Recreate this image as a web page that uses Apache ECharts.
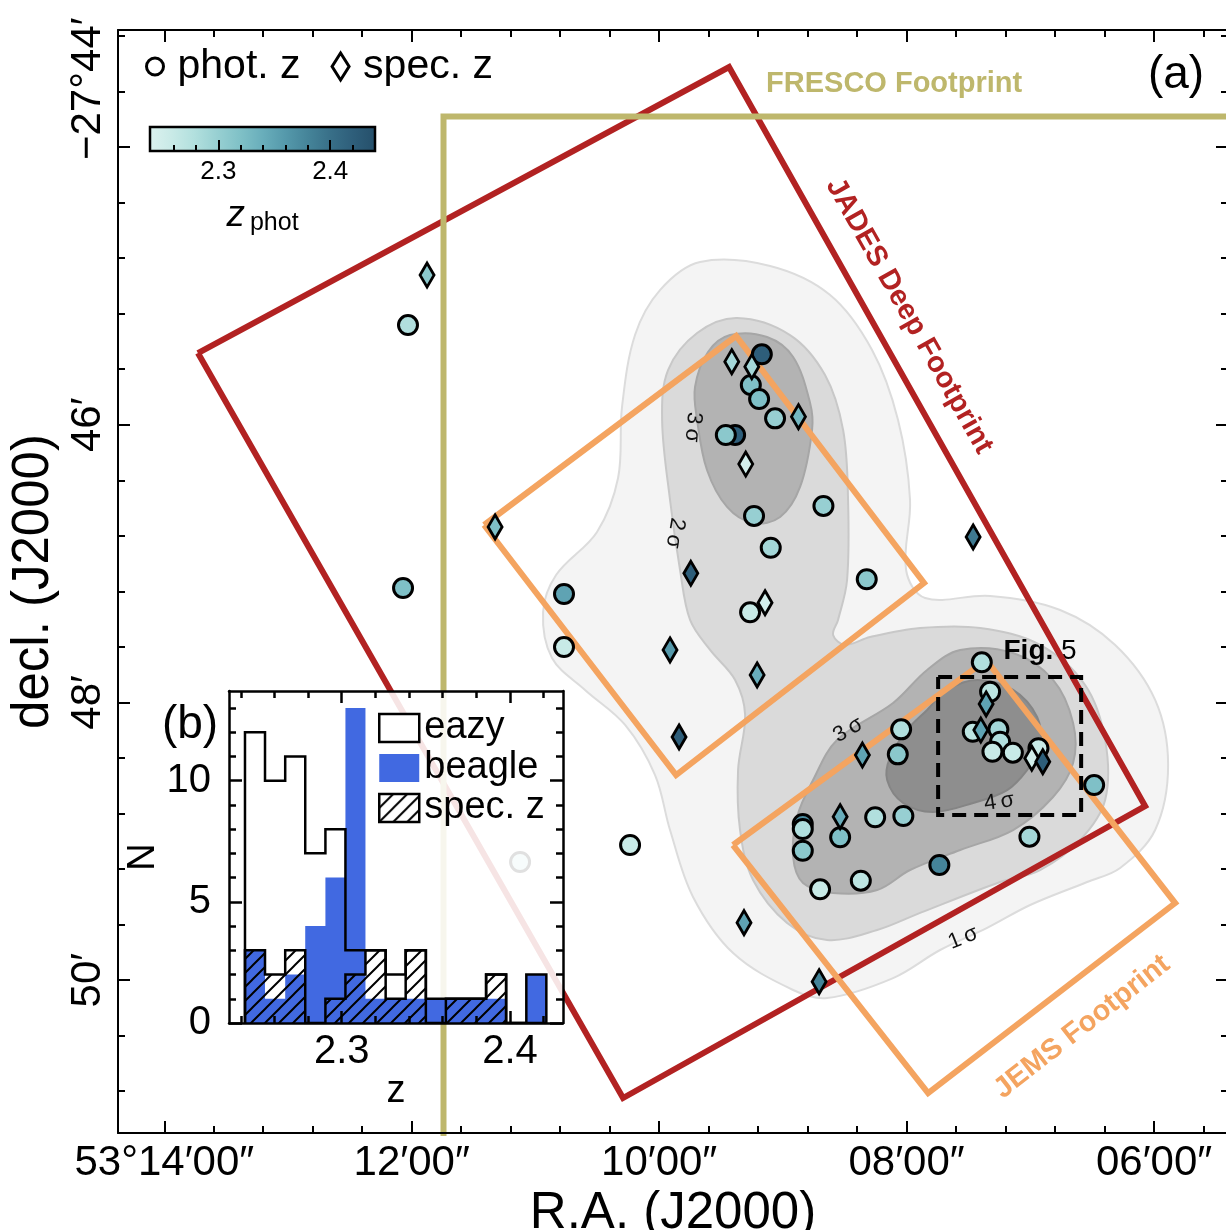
<!DOCTYPE html>
<html><head><meta charset="utf-8">
<script src="https://cdn.jsdelivr.net/npm/echarts@6/dist/echarts.min.js"></script>
<style>html,body{margin:0;padding:0;background:#fff;overflow:hidden}#c{width:1226px;height:1230px}</style>
</head><body><div id="c"></div>
<script>
// ---------------- DATA ----------------
// R.A. in arcmin past 53°00' ; decl. in arcmin below -27°00'
const raTicks = [6, 8, 10, 12, 14];
const raMinorTicks = [5.6, 6.4, 6.8, 7.2, 7.6, 8.4, 8.8, 9.2, 9.6, 10.4, 10.8, 11.2, 11.6, 12.4, 12.8, 13.2, 13.6];
const decTicks = [44, 46, 48, 50];
const decMinorTicks = [43.2, 43.6, 44.4, 44.8, 45.2, 45.6, 46.4, 46.8, 47.2, 47.6, 48.4, 48.8, 49.2, 49.6, 50.4, 50.8];

// [R.A., decl., z_phot]
const photZ = [
  [12.030, 45.282, 2.28], [12.070, 47.176, 2.32], [10.769, 47.219, 2.35], [10.769, 47.601, 2.26],
  [10.235, 49.027, 2.26], [11.124, 49.149, 2.27],
  [9.170, 45.493, 2.42], [9.259, 45.714, 2.32], [9.192, 45.815, 2.32], [9.063, 45.954, 2.30],
  [9.386, 46.074, 2.42], [9.461, 46.074, 2.31], [9.233, 46.657, 2.30], [8.672, 46.585, 2.30],
  [9.098, 46.886, 2.29], [8.322, 47.113, 2.31], [9.265, 47.351, 2.26],
  [7.392, 47.711, 2.28], [7.325, 47.923, 2.27], [7.465, 48.211, 2.27], [7.258, 48.194, 2.29],
  [7.244, 48.283, 2.28], [7.306, 48.355, 2.26], [7.141, 48.362, 2.26], [6.934, 48.330, 2.26],
  [6.484, 48.595, 2.32], [8.044, 48.194, 2.28], [8.071, 48.374, 2.31], [8.839, 48.875, 2.37],
  [8.839, 48.912, 2.28], [8.839, 49.068, 2.31], [8.537, 48.971, 2.32], [8.254, 48.827, 2.28],
  [8.026, 48.818, 2.30], [7.735, 49.171, 2.38], [7.007, 48.967, 2.29], [8.699, 49.346, 2.26],
  [8.370, 49.284, 2.27]
];
const specZ = [
  [11.876, 44.922, 2.31], [11.326, 46.736, 2.32], [9.413, 45.546, 2.29], [9.251, 45.582, 2.29],
  [8.874, 45.942, 2.33], [9.300, 46.283, 2.25], [9.744, 47.070, 2.42], [9.144, 47.282, 2.25],
  [9.912, 47.622, 2.36], [9.208, 47.802, 2.34], [9.839, 48.249, 2.42], [7.462, 46.808, 2.39],
  [9.314, 49.586, 2.35], [8.707, 50.011, 2.38], [7.357, 48.011, 2.35], [7.400, 48.199, 2.35],
  [6.988, 48.402, 2.25], [6.899, 48.427, 2.42], [8.357, 48.379, 2.35], [8.537, 48.823, 2.34]
];

const frescoFootprint = [[11.743, 52.0], [11.743, 43.780], [4.8, 43.780]];
const jadesFootprint = [[13.728, 45.484], [9.435, 43.424], [6.072, 48.746], [10.292, 50.849], [13.728, 45.484]];
const jemsFootprintA = [[11.415, 46.722], [9.378, 45.361], [7.859, 47.140], [9.863, 48.523], [11.415, 46.722]];
const jemsFootprintB = [[9.403, 49.027], [7.357, 47.695], [5.829, 49.445], [7.826, 50.813], [9.403, 49.027]];
const fig5Box = [[7.745, 47.817], [6.589, 47.817], [6.589, 48.811], [7.745, 48.811], [7.745, 47.817]];

const contour1 = [[9.669,44.828],[9.103,44.857],[8.618,45.066],[8.279,45.462],[8.069,45.966],[7.972,46.542],[8.004,47.046],[7.850,47.248],[7.325,47.233],[6.759,47.334],[6.314,47.586],[5.991,47.982],[5.886,48.451],[5.991,48.919],[6.274,49.192],[6.541,49.293],[7.001,49.459],[7.349,49.624],[7.729,49.783],[8.109,49.985],[8.643,50.129],[8.917,50.071],[9.402,49.805],[9.726,49.401],[9.912,48.919],[10.033,48.523],[10.275,48.162],[10.599,47.910],[10.866,47.680],[10.938,47.349],[10.833,47.082],[10.502,46.772],[10.332,46.384],[10.300,45.872],[10.195,45.354],[9.993,45.030]];
const contour2 = [[9.370,45.231],[8.942,45.354],[8.659,45.642],[8.513,46.038],[8.473,46.542],[8.481,47.118],[8.554,47.406],[8.594,47.514],[8.497,47.586],[8.295,47.529],[7.891,47.464],[7.406,47.464],[6.921,47.586],[6.557,47.874],[6.395,48.270],[6.395,48.703],[6.597,48.991],[6.921,49.207],[7.244,49.293],[7.891,49.516],[8.238,49.639],[8.643,49.711],[8.966,49.588],[9.241,49.279],[9.346,48.919],[9.362,48.487],[9.305,48.090],[9.386,47.838],[9.588,47.622],[9.750,47.406],[9.831,47.046],[9.912,46.542],[9.976,45.966],[9.928,45.606],[9.693,45.339]];
const contour3a = [[9.427,45.354],[9.128,45.368],[8.917,45.512],[8.780,45.843],[8.764,46.038],[8.861,46.448],[9.022,46.664],[9.241,46.708],[9.451,46.592],[9.613,46.326],[9.693,45.966],[9.710,45.728],[9.605,45.476]];
const contour3b = [[8.756,48.559],[8.562,48.270],[8.109,48.004],[7.834,47.766],[7.567,47.622],[7.139,47.644],[6.816,47.838],[6.654,48.148],[6.654,48.436],[6.816,48.681],[7.139,48.919],[7.567,49.063],[7.972,49.207],[8.238,49.351],[8.594,49.372],[8.837,49.300],[8.917,49.113],[8.885,48.825]];
const contour4 = [[8.157,48.559],[8.133,48.393],[7.996,48.199],[7.834,48.054],[7.672,47.910],[7.430,47.838],[7.139,47.910],[6.945,48.105],[6.921,48.321],[7.026,48.487],[7.187,48.631],[7.462,48.724],[7.786,48.789],[8.028,48.724]];

// [R.A., decl., text]
const annotations = [
  [9.136, 43.546, 'FRESCO Footprint'],
  [7.980, 45.217, 'JADES Deep Footprint'],
  [6.581, 50.337, 'JEMS Footprint'],
  [6.921, 47.630, '{b|Fig.} 5'],
  [9.726, 46.016, '3\u2009σ'],
  [9.871, 46.780, '2\u2009σ'],
  [8.473, 48.198, '3\u2009σ'],
  [7.252, 48.717, '4\u2009σ'],
  [7.543, 49.696, '1\u2009σ']
];

// inset histogram
const zBinEdges = [2.2425, 2.2544, 2.2664, 2.2783, 2.2903, 2.3022, 2.3141, 2.3261, 2.3380, 2.3500, 2.3619, 2.3738, 2.3858, 2.3977, 2.4097, 2.4216];
const eazyCounts   = [12, 10, 11, 7, 8, 3, 3, 2, 3, 1, 1, 1, 2, 0, 2];
const beagleCounts = [3, 1, 2, 4, 6, 13, 1, 1, 1, 1, 1, 1, 1, 0, 2];
const specCounts   = [3, 2, 3, 0, 1, 2, 3, 1, 3, 0, 1, 1, 2, 0, 0];
const histTicks = [2.3, 2.4];
const histMinorTicks = [2.24, 2.26, 2.28, 2.32, 2.34, 2.36, 2.38, 2.42];
const nTicks = [0, 5, 10];
const nMinorTicks = [1, 2, 3, 4, 6, 7, 8, 9, 11, 12, 13];
const cbarTicks = [2.3, 2.4];
const cbarMinorTicks = [2.26, 2.28, 2.32, 2.34, 2.36, 2.38, 2.42];

// ---------------- STYLE / LAYOUT ----------------
const FONT = '"Liberation Sans", Arial, Helvetica, sans-serif';
const RA_MIN = 5.402, RA_MAX = 14.374, DEC_MIN = 43.157, DEC_MAX = 51.101;
const CB_MIN = 2.239, CB_MAX = 2.440;
const Z_MIN = 2.233, Z_MAX = 2.4315, N_MAX = 13.70;
const cmapColors = ['#dcf2ef', '#c9eae7', '#b2e0de', '#98d0d2', '#80c1c7', '#69aebb', '#5599ab', '#458499', '#386f88', '#2e5e7a', '#254f6a'];
const annoStyles = [
  {rot: 0, size: 29, weight: 'bold', color: '#BEB76C', align: 'left'},
  {rot: -60.6, size: 29, weight: 'bold', color: '#B22222', align: 'center'},
  {rot: 38, size: 29, weight: 'bold', color: '#F4A460', align: 'center'},
  {rot: 0, size: 28, weight: 'normal', color: '#000', align: 'center'},
  {rot: -95, size: 22, weight: 'normal', color: '#111', align: 'center'},
  {rot: -100, size: 22, weight: 'normal', color: '#111', align: 'center'},
  {rot: 30, size: 22, weight: 'normal', color: '#111', align: 'center'},
  {rot: 8, size: 22, weight: 'normal', color: '#111', align: 'center'},
  {rot: 22, size: 22, weight: 'normal', color: '#111', align: 'center'}
];

function makeHatch() {
  const s = 14, c = document.createElement('canvas');
  c.width = s; c.height = s;
  const g = c.getContext('2d');
  g.strokeStyle = '#000'; g.lineWidth = 2;
  g.beginPath();
  g.moveTo(0, s); g.lineTo(s, 0);
  g.moveTo(-2, 2); g.lineTo(2, -2);
  g.moveTo(s - 2, s + 2); g.lineTo(s + 2, s - 2);
  g.stroke();
  return c;
}
const hatch = {image: makeHatch(), repeat: 'repeat'};

function stepPoints(edges, counts) {
  const pts = [[edges[0], 0]];
  for (let i = 0; i < counts.length; i++) {
    pts.push([edges[i], counts[i]]);
    pts.push([edges[i + 1], counts[i]]);
  }
  pts.push([edges[edges.length - 1], 0]);
  return pts;
}

function axis(o) {
  const a = {
    type: 'value', splitLine: {show: false}, z: 10,
    axisLine: {show: !!o.line, onZero: false, lineStyle: {color: '#000', width: o.lw || 2}},
    axisTick: {show: true, inside: true, length: o.len, customValues: o.ticks, lineStyle: {color: '#000', width: o.lw || 2}},
    axisLabel: o.labels ? Object.assign({show: true, customValues: o.ticks, color: '#000', fontFamily: FONT}, o.labels) : {show: false}
  };
  ['gridIndex', 'position', 'min', 'max', 'inverse', 'name', 'nameLocation', 'nameGap', 'nameTextStyle', 'z'].forEach(k => { if (o[k] !== undefined) a[k] = o[k]; });
  return a;
}

const fmtRA = v => (v === 14 ? '53°14′00″' : (v < 10 ? '0' : '') + v + '′00″');
const fmtDec = v => (v === 44 ? '          −27°44′' : v + '′');

const xAxis = [
  axis({gridIndex: 0, position: 'bottom', min: RA_MIN, max: RA_MAX, inverse: true, line: true, len: 12, ticks: raTicks,
        labels: {formatter: fmtRA, fontSize: 42, margin: 9},
        name: 'R.A. (J2000)', nameLocation: 'middle', nameGap: 42, nameTextStyle: {fontSize: 51, color: '#000', fontFamily: FONT}}),
  axis({gridIndex: 0, position: 'bottom', min: RA_MIN, max: RA_MAX, inverse: true, len: 7, ticks: raMinorTicks}),
  axis({gridIndex: 0, position: 'top', min: RA_MIN, max: RA_MAX, inverse: true, line: true, len: 12, ticks: raTicks}),
  axis({gridIndex: 0, position: 'top', min: RA_MIN, max: RA_MAX, inverse: true, len: 7, ticks: raMinorTicks}),
  // colorbar
  axis({gridIndex: 1, position: 'bottom', min: CB_MIN, max: CB_MAX, len: 11, ticks: cbarTicks, z: 12,
        labels: {formatter: v => v.toFixed(1), fontSize: 26, margin: 8},
        name: '{i|z}{s|phot}', nameLocation: 'middle', nameGap: 44,
        nameTextStyle: {color: '#000', fontFamily: FONT, rich: {i: {fontSize: 37, fontStyle: 'italic', fontFamily: FONT, color: '#000'}, s: {fontSize: 25, fontFamily: FONT, color: '#000', padding: [16, 0, 0, 5]}}}}),
  axis({gridIndex: 1, position: 'bottom', min: CB_MIN, max: CB_MAX, len: 6, ticks: cbarMinorTicks, z: 12}),
  // inset
  axis({gridIndex: 2, position: 'bottom', min: Z_MIN, max: Z_MAX, line: true, lw: 2.5, len: 12, ticks: histTicks, z: 12,
        labels: {formatter: v => v.toFixed(1), fontSize: 40, margin: 9},
        name: 'z', nameLocation: 'middle', nameGap: 36, nameTextStyle: {fontSize: 38, color: '#000', fontFamily: FONT}}),
  axis({gridIndex: 2, position: 'bottom', min: Z_MIN, max: Z_MAX, lw: 2.5, len: 7, ticks: histMinorTicks, z: 12}),
  axis({gridIndex: 2, position: 'top', min: Z_MIN, max: Z_MAX, line: true, lw: 2.5, len: 12, ticks: histTicks, z: 12}),
  axis({gridIndex: 2, position: 'top', min: Z_MIN, max: Z_MAX, lw: 2.5, len: 7, ticks: histMinorTicks, z: 12})
];
const yAxis = [
  axis({gridIndex: 0, position: 'left', min: DEC_MIN, max: DEC_MAX, inverse: true, line: true, len: 12, ticks: decTicks,
        labels: {formatter: fmtDec, fontSize: 42, margin: 9, rotate: 90},
        name: 'decl. (J2000)', nameLocation: 'middle', nameGap: 55, nameTextStyle: {fontSize: 51, color: '#000', fontFamily: FONT}}),
  axis({gridIndex: 0, position: 'left', min: DEC_MIN, max: DEC_MAX, inverse: true, len: 7, ticks: decMinorTicks}),
  axis({gridIndex: 0, position: 'right', min: DEC_MIN, max: DEC_MAX, inverse: true, line: true, len: 12, ticks: decTicks}),
  axis({gridIndex: 0, position: 'right', min: DEC_MIN, max: DEC_MAX, inverse: true, len: 7, ticks: decMinorTicks}),
  {type: 'value', gridIndex: 1, min: 0, max: 1, show: false},
  axis({gridIndex: 2, position: 'left', min: 0, max: N_MAX, line: true, lw: 2.5, len: 13, ticks: nTicks, z: 12,
        labels: {formatter: v => String(v), fontSize: 40, margin: 18},
        name: 'N', nameLocation: 'middle', nameGap: 58, nameTextStyle: {fontSize: 38, color: '#000', fontFamily: FONT}}),
  axis({gridIndex: 2, position: 'left', min: 0, max: N_MAX, lw: 2.5, len: 7, ticks: nMinorTicks, z: 12}),
  axis({gridIndex: 2, position: 'right', min: 0, max: N_MAX, line: true, lw: 2.5, len: 13, ticks: nTicks, z: 12}),
  axis({gridIndex: 2, position: 'right', min: 0, max: N_MAX, lw: 2.5, len: 7, ticks: nMinorTicks, z: 12})
];

function contourSeries(pts, fill, stroke) {
  return {
    type: 'custom', xAxisIndex: 0, yAxisIndex: 0, z: 1, silent: true, clip: true, data: [[9, 47]],
    renderItem: (params, api) => ({
      type: 'polygon',
      shape: {points: pts.map(p => api.coord(p)), smooth: 0.35},
      style: {fill: fill, stroke: stroke, lineWidth: 2}
    })
  };
}
function footSeries(pts, color, width, dash) {
  return {
    type: 'line', xAxisIndex: 0, yAxisIndex: 0, data: pts, showSymbol: false, symbol: 'none', z: 3, clip: true, silent: true,
    lineStyle: {color: color, width: width, join: 'miter', cap: 'butt', type: dash || 'solid'}
  };
}
function histSeries(name, pts, area, line, z) {
  return {
    type: 'line', name: name, xAxisIndex: 6, yAxisIndex: 5, data: pts, symbol: 'none', showSymbol: false, z: z, silent: true,
    lineStyle: line ? {color: '#000', width: 2.5, join: 'miter'} : {opacity: 0, width: 0},
    areaStyle: area ? {color: area, opacity: 1} : undefined
  };
}

const series = [
  contourSeries(contour1, '#f4f4f4', '#dcdcdc'),
  contourSeries(contour2, '#dadada', '#c8c8c8'),
  contourSeries(contour3a, '#b3b3b3', '#a6a6a6'),
  contourSeries(contour3b, '#b3b3b3', '#a6a6a6'),
  contourSeries(contour4, '#8e8e8e', '#858585'),
  footSeries(jadesFootprint, '#B22222', 6),
  footSeries(frescoFootprint, '#BEB76C', 6),
  footSeries(jemsFootprintA, '#F4A460', 6),
  footSeries(jemsFootprintB, '#F4A460', 6),
  footSeries(fig5Box, '#000', 4, [14, 8]),
  {
    type: 'custom', xAxisIndex: 0, yAxisIndex: 0, z: 3, silent: true, data: annotations.map(a => [a[0], a[1]]),
    renderItem: (params, api) => {
      const a = annotations[params.dataIndex], s = annoStyles[params.dataIndex];
      const p = api.coord([a[0], a[1]]);
      return {
        type: 'text', x: p[0], y: p[1], rotation: s.rot * Math.PI / 180,
        style: {text: a[2], fill: s.color, fontSize: s.size, fontWeight: s.weight, fontFamily: FONT,
                align: s.align, verticalAlign: 'middle', rich: {b: {fontWeight: 'bold', fontSize: s.size, fontFamily: FONT, fill: s.color}}}
      };
    }
  },
  {type: 'scatter', name: 'phot. z', xAxisIndex: 0, yAxisIndex: 0, data: photZ, symbol: 'circle', symbolSize: 19, z: 4,
   itemStyle: {borderColor: '#000', borderWidth: 3, opacity: 1}},
  {type: 'scatter', name: 'spec. z', xAxisIndex: 0, yAxisIndex: 0, data: specZ, symbol: 'diamond', symbolSize: [14, 24], z: 4,
   itemStyle: {borderColor: '#000', borderWidth: 3, opacity: 1}},
  // colorbar
  {type: 'custom', xAxisIndex: 4, yAxisIndex: 4, z: 5, silent: true, data: [[2.3, 0.5]],
   renderItem: (params) => {
     const cs = params.coordSys;
     const stops = cmapColors.map((c, i) => ({offset: i / (cmapColors.length - 1), color: c}));
     return {type: 'rect', shape: {x: cs.x, y: cs.y, width: cs.width, height: cs.height},
             style: {fill: new echarts.graphic.LinearGradient(0, 0, 1, 0, stops), stroke: '#000', lineWidth: 2.5}};
   }},
  // inset
  {type: 'custom', xAxisIndex: 6, yAxisIndex: 5, z: 5, silent: true, data: [[2.3, 5]],
   renderItem: (params) => {
     const cs = params.coordSys;
     return {type: 'rect', shape: {x: cs.x, y: cs.y, width: cs.width, height: cs.height}, style: {fill: 'rgba(255,255,255,0.88)'}};
   }},
  histSeries('eazy', stepPoints(zBinEdges, eazyCounts), '#ffffff', false, 6),
  histSeries('beagle', stepPoints(zBinEdges, beagleCounts), '#4169E1', false, 7),
  histSeries('eazy', stepPoints(zBinEdges, eazyCounts), null, true, 8),
  histSeries('spec. z', stepPoints(zBinEdges, specCounts), hatch, true, 9)
];

const option = {
  animation: false,
  backgroundColor: '#fff',
  textStyle: {fontFamily: FONT},
  grid: [
    {left: 118, top: 30, width: 1110, height: 1103, containLabel: false, outerBoundsMode: 'none'},
    {left: 150, top: 127, width: 225, height: 24, containLabel: false, outerBoundsMode: 'none'},
    {left: 229, top: 691, width: 334, height: 332, containLabel: false, outerBoundsMode: 'none'}
  ],
  xAxis: xAxis,
  yAxis: yAxis,
  visualMap: [{type: 'continuous', show: false, min: CB_MIN, max: CB_MAX, dimension: 2, seriesIndex: [11, 12], inRange: {color: cmapColors}}],
  legend: [
    {left: 140, top: 41, orient: 'horizontal', itemWidth: 17, itemHeight: 27, itemGap: 30, selectedMode: false, z: 12,
     textStyle: {fontSize: 41, color: '#000', fontFamily: FONT, padding: [0, 0, 0, 9]},
     itemStyle: {color: '#fff', borderColor: '#000', borderWidth: 3},
     data: [{name: 'phot. z', icon: 'circle'}, {name: 'spec. z', icon: 'diamond'}]},
    {left: 373, top: 704, orient: 'vertical', itemWidth: 40, itemHeight: 28, itemGap: 2, selectedMode: false, z: 12,
     textStyle: {fontSize: 38, color: '#000', fontFamily: FONT},
     data: [
       {name: 'eazy', icon: 'rect', itemStyle: {color: '#fff', borderColor: '#000', borderWidth: 2.5}},
       {name: 'beagle', icon: 'rect', itemStyle: {color: '#4169E1', borderColor: '#4169E1', borderWidth: 0}},
       {name: 'spec. z', icon: 'rect', itemStyle: {color: hatch, borderColor: '#000', borderWidth: 2.5}}
     ]}
  ],
  graphic: [
    {type: 'text', x: 1176, y: 75, z: 20, style: {text: '(a)', fontSize: 46, fontFamily: FONT, fill: '#000', align: 'center', verticalAlign: 'middle'}},
    {type: 'text', x: 190, y: 725, z: 20, style: {text: '(b)', fontSize: 46, fontFamily: FONT, fill: '#000', align: 'center', verticalAlign: 'middle'}}
  ],
  series: series
};

const chart = echarts.init(document.getElementById('c'), null, {renderer: 'canvas', width: 1226, height: 1230});
chart.setOption(option);
</script>
</body></html>
